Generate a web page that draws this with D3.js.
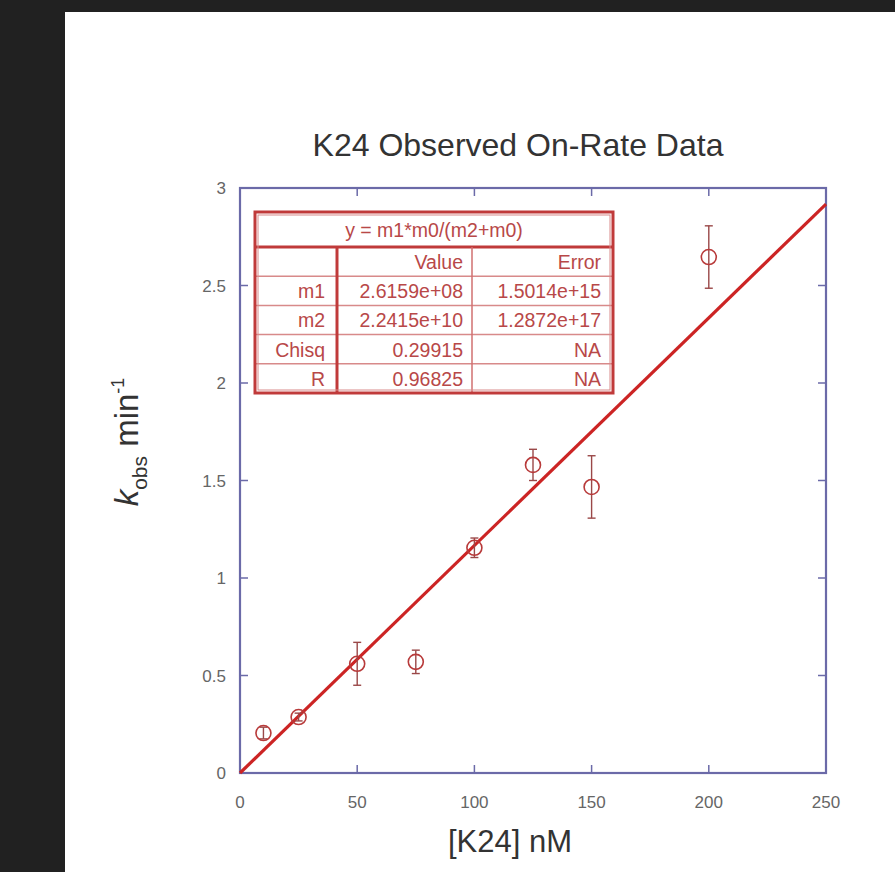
<!DOCTYPE html>
<html>
<head>
<meta charset="utf-8">
<script src="https://cdnjs.cloudflare.com/ajax/libs/d3/7.8.5/d3.min.js"></script>
<style>
  html, body { margin: 0; padding: 0; background: #212121; }
  #chart { position: absolute; left: 0; top: 0; }
  text { font-family: Arial, "Liberation Sans", sans-serif; }
</style>
</head>
<body>
<div id="chart"></div>
<script>
// data
var conc   = [10, 25, 50, 75, 100, 125, 150, 200];
var kobs   = [0.205, 0.287, 0.56, 0.57, 1.155, 1.58, 1.467, 2.646];
var kerr   = [0.03, 0.02, 0.11, 0.06, 0.05, 0.08, 0.16, 0.16];
var xTicks = [0, 50, 100, 150, 200, 250];
var yTicks = [0, 0.5, 1, 1.5, 2, 2.5, 3];

// fit table
var fitEq   = "y = m1*m0/(m2+m0)";
var rowName = ["m1", "m2", "Chisq", "R"];
var rowVal  = ["2.6159e+08", "2.2415e+10", "0.29915", "0.96825"];
var rowErr  = ["1.5014e+15", "1.2872e+17", "NA", "NA"];
var m1 = 2.6159e8, m2 = 2.2415e10;

var W = 895, H = 872;
var svg = d3.select("#chart").append("svg")
    .attr("width", W).attr("height", H);

// white page panel
svg.append("rect").attr("x", 65).attr("y", 12)
    .attr("width", W - 65).attr("height", H - 12).attr("fill", "#fff");

var pL = 240, pR = 826, pT = 188, pB = 773;
var x = d3.scaleLinear().domain([0, 250]).range([pL, pR]);
var y = d3.scaleLinear().domain([0, 3]).range([pB, pT]);

var frameCol = "#6b6aa8", tickLen = 8;
var g = svg.append("g");

// ticks on all four sides, pointing in
xTicks.slice(1, -1).forEach(function(t) {
  g.append("line").attr("x1", x(t)).attr("x2", x(t)).attr("y1", pB).attr("y2", pB - tickLen)
    .attr("stroke", frameCol).attr("stroke-width", 1.5);
  g.append("line").attr("x1", x(t)).attr("x2", x(t)).attr("y1", pT).attr("y2", pT + tickLen)
    .attr("stroke", frameCol).attr("stroke-width", 1.5);
});
yTicks.slice(1, -1).forEach(function(t) {
  g.append("line").attr("x1", pL).attr("x2", pL + tickLen).attr("y1", y(t)).attr("y2", y(t))
    .attr("stroke", frameCol).attr("stroke-width", 1.5);
  g.append("line").attr("x1", pR).attr("x2", pR - tickLen).attr("y1", y(t)).attr("y2", y(t))
    .attr("stroke", frameCol).attr("stroke-width", 1.5);
});
g.append("rect").attr("x", pL).attr("y", pT)
    .attr("width", pR - pL).attr("height", pB - pT)
    .attr("fill", "none").attr("stroke", frameCol).attr("stroke-width", 2.2);

// tick labels
g.selectAll(".xl").data(xTicks).enter().append("text")
    .attr("x", function(d) { return x(d); }).attr("y", 808)
    .attr("text-anchor", "middle").attr("font-size", 17).attr("fill", "#666")
    .text(function(d) { return d; });
g.selectAll(".yl").data(yTicks).enter().append("text")
    .attr("x", 226).attr("y", function(d) { return y(d) + 6; })
    .attr("text-anchor", "end").attr("font-size", 17).attr("fill", "#666")
    .text(function(d) { return d; });

// titles
svg.append("text").attr("x", 518).attr("y", 156).attr("text-anchor", "middle")
    .attr("font-size", 32).attr("fill", "#333").text("K24 Observed On-Rate Data");
svg.append("text").attr("x", 510).attr("y", 852).attr("text-anchor", "middle")
    .attr("font-size", 31).attr("fill", "#333").text("[K24] nM");

var yl = svg.append("text").attr("transform", "translate(138,442) rotate(-90)")
    .attr("text-anchor", "middle").attr("font-size", 33).attr("fill", "#333");
yl.append("tspan").attr("font-style", "italic").text("k");
yl.append("tspan").attr("font-size", 21).attr("dy", 9).text("obs");
yl.append("tspan").attr("dy", -9).text(" min");
yl.append("tspan").attr("font-size", 18).attr("dy", -14).text("-1");

// fit line from the fit parameters
var fitX = [0, 250];
var line = d3.line().x(function(d) { return x(d); }).y(function(d) { return y(m1 * d / (m2 + d)); });
svg.append("path").datum(fitX).attr("d", line)
    .attr("stroke", "#cc2424").attr("stroke-width", 3.2).attr("fill", "none");

// error bars and markers
var pts = svg.append("g");
conc.forEach(function(c, i) {
  var cx = x(c), y0 = y(kobs[i] - kerr[i]), y1 = y(kobs[i] + kerr[i]);
  pts.append("line").attr("x1", cx).attr("x2", cx).attr("y1", y0).attr("y2", y1)
    .attr("stroke", "#9a4848").attr("stroke-width", 1.4);
  [y0, y1].forEach(function(yy) {
    pts.append("line").attr("x1", cx - 4).attr("x2", cx + 4).attr("y1", yy).attr("y2", yy)
      .attr("stroke", "#9a4848").attr("stroke-width", 1.4);
  });
  pts.append("circle").attr("cx", cx).attr("cy", y(kobs[i])).attr("r", 7.5)
    .attr("fill", "none").attr("stroke", "#b83a3a").attr("stroke-width", 1.6);
});

// fit results table
var tL = 255, tR = 613, tT = 212, hdrH = 35, rowH = 29.2;
var cols = [tL, 337, 472, tR];
var pads = [12, 9, 12];
var tCol = "#b84848";
var tb = svg.append("g");
tb.append("rect").attr("x", tL).attr("y", tT).attr("width", tR - tL)
    .attr("height", hdrH + rowH * 5).attr("fill", "#fff");
tb.append("text").attr("x", (tL + tR) / 2).attr("y", tT + 25).attr("text-anchor", "middle")
    .attr("font-size", 19.5).attr("fill", tCol).text(fitEq);
var heads = ["", "Value", "Error"];
var rows = [heads].concat(rowName.map(function(n, i) { return [n, rowVal[i], rowErr[i]]; }));
rows.forEach(function(r, ri) {
  var ry = tT + hdrH + ri * rowH;
  if (ri > 0) tb.append("line").attr("x1", tL).attr("x2", tR).attr("y1", ry).attr("y2", ry)
      .attr("stroke", "#d88a8a").attr("stroke-width", 1.5);
  r.forEach(function(s, ci) {
    tb.append("text").attr("x", cols[ci + 1] - pads[ci]).attr("y", ry + 22)
      .attr("text-anchor", "end").attr("font-size", 19.5).attr("fill", tCol).text(s);
  });
});
tb.append("line").attr("x1", tL).attr("x2", tR).attr("y1", tT + hdrH).attr("y2", tT + hdrH)
    .attr("stroke", "#c03a3a").attr("stroke-width", 3);
tb.append("line").attr("x1", cols[1]).attr("x2", cols[1]).attr("y1", tT + hdrH).attr("y2", tT + hdrH + rowH * 5)
    .attr("stroke", "#c03a3a").attr("stroke-width", 3);
tb.append("line").attr("x1", cols[2]).attr("x2", cols[2]).attr("y1", tT + hdrH).attr("y2", tT + hdrH + rowH * 5)
    .attr("stroke", "#d07070").attr("stroke-width", 1.5);
tb.append("rect").attr("x", tL + 3).attr("y", tT + 3).attr("width", tR - tL - 6)
    .attr("height", hdrH + rowH * 5 - 6).attr("fill", "none").attr("stroke", "#d88a8a").attr("stroke-width", 1);
tb.append("rect").attr("x", tL).attr("y", tT).attr("width", tR - tL)
    .attr("height", hdrH + rowH * 5).attr("fill", "none").attr("stroke", "#c03a3a").attr("stroke-width", 3);
</script>
</body>
</html>
